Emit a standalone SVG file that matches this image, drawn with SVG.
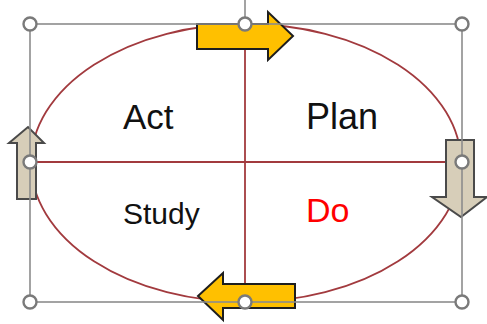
<svg xmlns="http://www.w3.org/2000/svg" width="487" height="324" viewBox="0 0 487 324">
  <style>
    .cyc { fill: none; stroke: #A23A3E; stroke-width: 1.8; }
    .sel { fill: none; stroke: #8C8C8C; stroke-width: 1.6; }
    .handle { fill: #FFFFFF; stroke: #7A7A7A; stroke-width: 2.4; }
    .ya { fill: #FFC000; stroke: #1E1E1E; stroke-width: 2; stroke-linejoin: miter; }
    .ba { fill: #D7CEB9; stroke: #4A4A4A; stroke-width: 2; stroke-linejoin: miter; }
    .lbl { font-family: "Liberation Sans", Arial, sans-serif; fill: #111111; }
  </style>
  <rect width="487" height="324" fill="#FFFFFF"/>

  <g id="cycle">
    <ellipse class="cyc" cx="246" cy="163" rx="215" ry="139"/>
  </g>

  <g id="connectors">
    <line class="cyc" x1="245" y1="24" x2="245" y2="302"/>
    <line class="cyc" x1="30" y1="162" x2="462" y2="162"/>
  </g>

  <g id="act"><text class="lbl" x="123" y="129" font-size="35">Act</text></g>
  <g id="plan"><text class="lbl" x="306" y="129" font-size="36">Plan</text></g>
  <g id="study"><text class="lbl" x="123" y="224" font-size="30">Study</text></g>
  <g id="do"><text class="lbl" x="306" y="222" font-size="34" style="fill:#FF0000">Do</text></g>

  <g id="arrow-top">
    <polygon class="ya" points="197,24 268,24 268,12 293,36 268,60 268,49 197,49"/>
  </g>
  <g id="arrow-bottom">
    <polygon class="ya" points="295,284 223,284 223,273 198,296 223,320 223,308 295,308"/>
  </g>
  <g id="arrow-left">
    <polygon class="ba" points="17,199 17,143 9,143 28,127 44,143 36,143 36,199"/>
  </g>
  <g id="arrow-right">
    <polygon class="ba" points="446,140 474,140 474,197 487,197 461,217 432,197 446,197"/>
  </g>

  <g id="selection">
    <rect class="sel" x="30" y="24" width="432" height="278"/>
    <line class="sel" x1="245" y1="0" x2="245" y2="24"/>
    <circle class="handle" cx="30" cy="24" r="6.5"/>
    <circle class="handle" cx="245" cy="24" r="6.5"/>
    <circle class="handle" cx="462" cy="24" r="6.5"/>
    <circle class="handle" cx="30" cy="162" r="6.5"/>
    <circle class="handle" cx="462" cy="162" r="6.5"/>
    <circle class="handle" cx="30" cy="302" r="6.5"/>
    <circle class="handle" cx="245" cy="302" r="6.5"/>
    <circle class="handle" cx="462" cy="302" r="6.5"/>
  </g>
</svg>
